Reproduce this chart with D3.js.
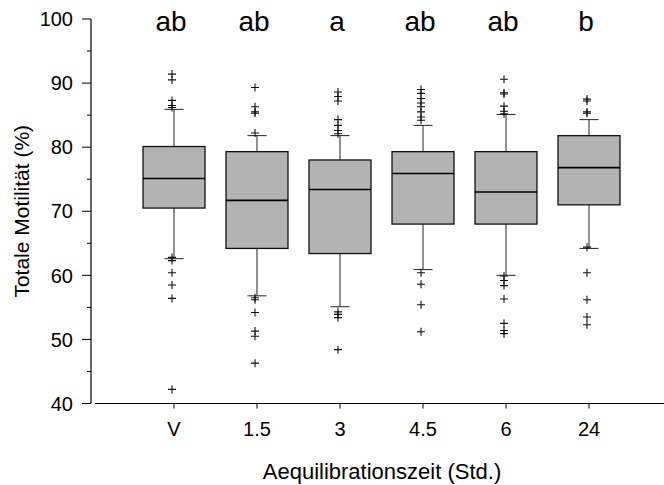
<!DOCTYPE html>
<html>
<head>
<meta charset="utf-8">
<script src="https://cdn.jsdelivr.net/npm/d3@7"></script>
<style>
  body { margin: 0; background: #fff; }
  svg { display: block; font-family: "Liberation Sans", Arial, sans-serif; }
</style>
</head>
<body>
<div id="chart"></div>
<script>
// categories along the x axis
const categories = ["V", "1.5", "3", "4.5", "6", "24"];
// box statistics
const q1 = [70.5, 64.2, 63.4, 68.0, 68.0, 71.0];
const medians = [75.1, 71.7, 73.4, 75.9, 73.0, 76.8];
const q3 = [80.1, 79.3, 78.0, 79.3, 79.3, 81.8];
const whiskerLow = [62.6, 56.8, 55.1, 60.9, 60.0, 64.2];
const whiskerHigh = [85.9, 81.8, 81.8, 83.4, 85.1, 84.3];
const outliers = [
  [91.4, 90.5, 87.3, 86.5, 86.2, 62.8, 62.3, 60.4, 58.5, 56.4, 42.2],
  [89.3, 86.3, 85.5, 85.3, 82.2, 56.5, 56.2, 54.2, 51.3, 50.5, 46.3],
  [88.6, 87.9, 87.2, 84.3, 83.4, 82.6, 82.1, 54.3, 53.9, 53.4, 48.4],
  [89.0, 88.4, 87.6, 86.9, 86.3, 85.5, 84.7, 84.2, 60.4, 58.6, 55.4, 51.2],
  [90.6, 88.5, 88.3, 86.4, 85.6, 85.2, 59.9, 59.2, 58.4, 56.3, 52.5, 51.4, 50.9],
  [87.5, 87.2, 85.5, 85.3, 64.4, 60.4, 56.2, 53.5, 52.3]
];
const letters = ["ab", "ab", "a", "ab", "ab", "b"];
const yTicks = [40, 50, 60, 70, 80, 90, 100];

const width = 664, height = 485;

const svg = d3.select("#chart").append("svg")
  .attr("width", width)
  .attr("height", height);

const x = d3.scalePoint().domain(categories).range([174, 589]);
const y = d3.scaleLinear().domain([40, 100]).range([403.5, 19]);
const boxW = 62, capW = 19;

// y axis with minor ticks
const yAxis = svg.append("g").attr("transform", "translate(91,0)");
yAxis.append("line")
  .attr("y1", y(40)).attr("y2", y(100))
  .attr("stroke", "#000").attr("stroke-width", 1.2);
yAxis.selectAll("line.minor")
  .data(d3.range(45, 100, 10))
  .join("line").classed("minor", true)
  .attr("x1", -4).attr("x2", 0)
  .attr("y1", d => y(d)).attr("y2", d => y(d))
  .attr("stroke", "#000");
yAxis.selectAll("line.major")
  .data(yTicks)
  .join("line").classed("major", true)
  .attr("x1", -9).attr("x2", 0)
  .attr("y1", d => y(d)).attr("y2", d => y(d))
  .attr("stroke", "#000");
yAxis.selectAll("text")
  .data(yTicks)
  .join("text")
  .attr("x", -18)
  .attr("y", d => y(d))
  .attr("dy", "0.36em")
  .attr("text-anchor", "end")
  .attr("font-size", 20)
  .text(d => d);

// x axis
const xAxis = svg.append("g").attr("transform", `translate(0,${y(40)})`);
xAxis.append("line")
  .attr("x1", 95).attr("x2", width)
  .attr("stroke", "#000").attr("stroke-width", 1.2);
xAxis.selectAll("line.tick")
  .data(categories)
  .join("line").classed("tick", true)
  .attr("x1", d => x(d)).attr("x2", d => x(d))
  .attr("y1", 0).attr("y2", 5)
  .attr("stroke", "#000");
xAxis.selectAll("text")
  .data(categories)
  .join("text")
  .attr("x", d => x(d))
  .attr("y", 32)
  .attr("text-anchor", "middle")
  .attr("font-size", 20)
  .text(d => d);

// axis titles
svg.append("text")
  .attr("x", 382).attr("y", 479)
  .attr("text-anchor", "middle")
  .attr("font-size", 22)
  .text("Aequilibrationszeit (Std.)");
svg.append("text")
  .attr("transform", `translate(29,${(y(40) + y(100)) / 2}) rotate(-90)`)
  .attr("text-anchor", "middle")
  .attr("font-size", 21)
  .text("Totale Motilität (%)");

// boxes
const groups = categories.map((c, i) => ({
  cat: c, q1: q1[i], med: medians[i], q3: q3[i],
  lo: whiskerLow[i], hi: whiskerHigh[i], out: outliers[i], letter: letters[i]
}));

const g = svg.selectAll("g.box")
  .data(groups)
  .join("g").classed("box", true)
  .attr("transform", d => `translate(${x(d.cat)},0)`);

// whiskers
g.append("line")
  .attr("y1", d => y(d.hi)).attr("y2", d => y(d.q3))
  .attr("stroke", "#222");
g.append("line")
  .attr("y1", d => y(d.q1)).attr("y2", d => y(d.lo))
  .attr("stroke", "#222");
g.append("line")
  .attr("x1", -capW / 2).attr("x2", capW / 2)
  .attr("y1", d => y(d.hi)).attr("y2", d => y(d.hi))
  .attr("stroke", "#222");
g.append("line")
  .attr("x1", -capW / 2).attr("x2", capW / 2)
  .attr("y1", d => y(d.lo)).attr("y2", d => y(d.lo))
  .attr("stroke", "#222");

g.append("rect")
  .attr("x", -boxW / 2)
  .attr("y", d => y(d.q3))
  .attr("width", boxW)
  .attr("height", d => y(d.q1) - y(d.q3))
  .attr("fill", "#b3b3b3")
  .attr("stroke", "#111")
  .attr("stroke-width", 1.3);
g.append("line")
  .attr("x1", -boxW / 2).attr("x2", boxW / 2)
  .attr("y1", d => y(d.med)).attr("y2", d => y(d.med))
  .attr("stroke", "#000").attr("stroke-width", 1.6);

// outliers as plus signs
g.selectAll("path.out")
  .data(d => d.out)
  .join("path").classed("out", true)
  .attr("d", v => `M-6,${y(v)}h8M-2,${y(v) - 4}v8`)
  .attr("stroke", "#111")
  .attr("stroke-width", 1.1);

// significance letters
g.append("text")
  .attr("x", -3).attr("y", 31)
  .attr("text-anchor", "middle")
  .attr("font-size", 28)
  .text(d => d.letter);
</script>
</body>
</html>
